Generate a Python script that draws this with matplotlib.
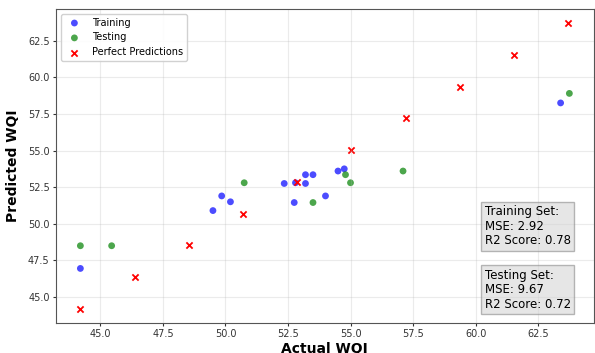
# Actual vs predicted WQI scatter for training / testing sets
import numpy as np
import matplotlib.pyplot as plt

# Training set (actual, predicted)
train_actual = [44.2, 49.5, 49.85, 50.2, 52.35, 52.75, 52.8, 53.2, 53.2, 53.5, 54.0, 54.5, 54.75, 63.4]
train_pred = [46.95, 50.9, 51.9, 51.5, 52.75, 51.45, 52.8, 52.75, 53.35, 53.35, 51.9, 53.6, 53.75, 58.25]

# Testing set (actual, predicted)
test_actual = [44.2, 45.45, 50.75, 53.5, 54.8, 55.0, 57.1, 63.75]
test_pred = [48.5, 48.5, 52.8, 51.45, 53.35, 52.8, 53.6, 58.9]

# Perfect prediction reference points
perfect = [44.2, 46.37, 48.53, 50.7, 52.87, 55.03, 57.2, 59.37, 61.53, 63.7]

train_mse, train_r2 = 2.92, 0.78
test_mse, test_r2 = 9.67, 0.72

fig = plt.figure(figsize=(5.95, 3.53), dpi=100)
ax = fig.add_axes([0.094, 0.085, 0.904, 0.89])

ax.scatter(train_actual, train_pred, color='blue', alpha=0.7, s=24, label='Training', edgecolors='none')
ax.scatter(test_actual, test_pred, color='green', alpha=0.7, s=24, label='Testing', edgecolors='none')
ax.scatter(perfect, perfect, color='red', marker='x', s=20, linewidths=1.3, label='Perfect Predictions')

ax.set_xlabel('Actual WQI', fontsize=10, fontweight='bold', labelpad=2)
ax.set_ylabel('Predicted WQI', fontsize=10, fontweight='bold', labelpad=6)
ax.tick_params(labelsize=7, colors='#333333', length=2.5, pad=2)
ax.grid(True, alpha=0.25)
for sp in ax.spines.values():
    sp.set_color('#555555')

ax.legend(loc='upper left', fontsize=7, framealpha=0.9)

box = dict(boxstyle='square,pad=0.3', facecolor='lightgray', edgecolor='gray', alpha=0.55)
ax.text(0.797, 0.375, f'Training Set:\nMSE: {train_mse:.2f}\nR2 Score: {train_r2:.2f}',
        transform=ax.transAxes, fontsize=8.5, va='top', ha='left', bbox=box, linespacing=1.15)
ax.text(0.797, 0.172, f'Testing Set:\nMSE: {test_mse:.2f}\nR2 Score: {test_r2:.2f}',
        transform=ax.transAxes, fontsize=8.5, va='top', ha='left', bbox=box, linespacing=1.15)

fig.savefig('out.png', dpi=100)
